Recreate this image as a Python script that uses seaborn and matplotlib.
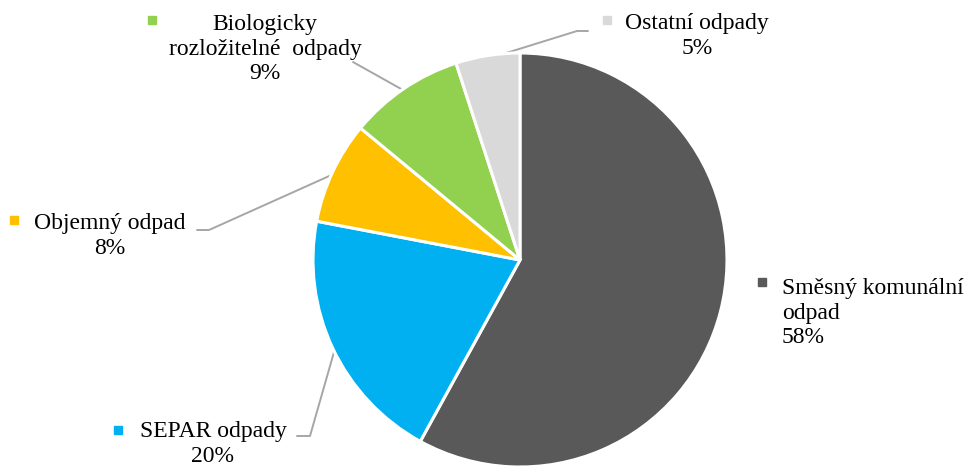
import numpy as np
import seaborn as sns
import matplotlib.pyplot as plt

categories = ['Směsný komunální\nodpad', 'SEPAR odpady', 'Objemný odpad',
              'Biologicky\nrozložitelné  odpady', 'Ostatní odpady']
shares = [58, 20, 8, 9, 5]
colors = ['#595959', '#00B0F0', '#FFC000', '#92D050', '#D9D9D9']

sns.set_theme(style='white')
plt.rcParams['font.family'] = ['Liberation Serif', 'DejaVu Serif']

W, H = 964, 467
fig = plt.figure(figsize=(W / 100, H / 100), dpi=100)
ax = fig.add_axes([0, 0, 1, 1])

cx, cy, r = 520, H - 260, 207
wedges, _ = ax.pie(shares, colors=colors, startangle=90, counterclock=False,
                   center=(cx, cy), radius=r, frame=True,
                   wedgeprops=dict(edgecolor='white', linewidth=2.2))
ax.set_xlim(0, W)
ax.set_ylim(0, H)
ax.set_aspect('auto')
ax.axis('off')

# label placement in pixels from the top: text x, block centre y, align, marker x/y, leader points
layout = [
    (782, 313, 'left', 762, 282, None),
    (213, 444, 'center', 118, 430, [(297, 436), (310, 436)]),
    (110, 236, 'center', 14, 220, [(197, 230), (209, 230)]),
    (265, 49, 'center', 152, 20, [(353, 62)]),
    (697, 36, 'center', 607, 20, [(588, 31), (577, 31)]),
]

fs = 17
for w, cat, val, col, (tx, ty, ha, mx, my, lead) in zip(wedges, categories, shares, colors, layout):
    ax.text(tx, H - ty, f'{cat}\n{val}%', ha=ha, va='center', multialignment=ha,
            fontsize=fs, color='black', linespacing=1.22)
    ax.plot(mx, H - my, marker='s', markersize=5.5, color=col, linestyle='none')
    if lead:
        mid = np.deg2rad((w.theta1 + w.theta2) / 2)
        ex = cx + 0.985 * r * np.cos(mid)
        ey = cy + 0.985 * r * np.sin(mid)
        pts = [(p[0], H - p[1]) for p in lead] + [(ex, ey)]
        xs, ys = zip(*pts)
        ax.plot(xs, ys, color='#A6A6A6', linewidth=1.4, zorder=0.5)

fig.savefig('out.png', dpi=100)
